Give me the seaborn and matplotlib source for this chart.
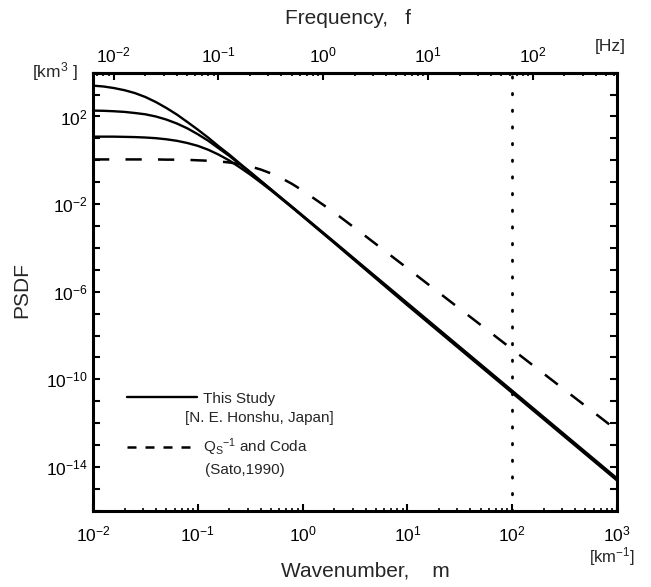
import numpy as np
import pandas as pd
import matplotlib
matplotlib.use("Agg")
import matplotlib.pyplot as plt
import seaborn as sns
from matplotlib.lines import Line2D
from matplotlib.ticker import FixedLocator, FuncFormatter, NullLocator, NullFormatter, LogLocator

# ---- data ----
wavenumber = [0.01, 0.0126, 0.0158, 0.0200, 0.0251, 0.0316, 0.0398, 0.0501, 0.0631, 0.0794,
              0.100, 0.126, 0.158, 0.200, 0.251, 0.316, 0.398, 0.501, 0.631, 0.794,
              1.0, 2.0, 3.98, 10.0, 31.6, 100.0, 316.0, 1000.0]
# log10 PSDF [km^3] of "This Study" curves (three correlation lengths)
log_psdf_study_a32 = [3.41, 3.37, 3.30, 3.20, 3.07, 2.89, 2.66, 2.39, 2.09, 1.75,
                      1.40, 1.03, 0.64, 0.26, -0.14, -0.53, -0.93, -1.33, -1.73, -2.12,
                      -2.52, -3.72, -4.92, -6.52, -8.52, -10.52, -12.52, -14.52]
log_psdf_study_a16 = [2.27, 2.26, 2.24, 2.21, 2.16, 2.10, 2.00, 1.86, 1.68, 1.46,
                      1.19, 0.89, 0.55, 0.20, -0.18, -0.56, -0.95, -1.34, -1.74, -2.14,
                      -2.54, -3.75, -4.96, -6.57, -8.57, -10.57, -12.57, -14.57]
log_psdf_study_a8 = [1.08, 1.08, 1.08, 1.07, 1.06, 1.04, 1.01, 0.96, 0.89, 0.79,
                     0.66, 0.48, 0.26, -0.01, -0.32, -0.65, -1.01, -1.38, -1.77, -2.16,
                     -2.56, -3.77, -4.99, -6.62, -8.62, -10.62, -12.62, -14.62]
# log10 PSDF of Qs^-1 and Coda (Sato, 1990)
log_psdf_sato = [0.04, 0.04, 0.04, 0.04, 0.04, 0.04, 0.04, 0.03, 0.03, 0.02,
                 0.00, -0.02, -0.05, -0.10, -0.17, -0.28, -0.42, -0.60, -0.82, -1.08,
                 -1.38, -2.38, -3.46, -4.93, -6.78, -8.63, -10.48, -12.33]
cutoff_wavenumber = 100.0       # dotted vertical line [km^-1]
s_wave_velocity = 4.0           # km/s, links wavenumber to frequency
y_labeled_exponents = [2, -2, -6, -10, -14]
top_tick_frequencies = [1e-2, 1e-1, 1e0, 1e1, 1e2]

rows = []
for name, vals in [("a32", log_psdf_study_a32), ("a16", log_psdf_study_a16),
                   ("a8", log_psdf_study_a8)]:
    for m, v in zip(wavenumber, vals):
        rows.append({"m": m, "psdf": 10.0 ** v, "curve": name})
df_study = pd.DataFrame(rows)
df_sato = pd.DataFrame({"m": wavenumber, "psdf": 10.0 ** np.array(log_psdf_sato)})

# ---- style ----
sns.set_theme(style="ticks")
plt.rcParams['font.family'] = ['Liberation Sans', 'DejaVu Sans']
plt.rcParams['mathtext.fontset'] = 'custom'
plt.rcParams['mathtext.rm'] = 'Liberation Sans'
plt.rcParams['mathtext.it'] = 'Liberation Sans:italic'
plt.rcParams['mathtext.bf'] = 'Liberation Sans:bold'
plt.rcParams['axes.edgecolor'] = 'black'
plt.rcParams['xtick.color'] = 'black'
plt.rcParams['ytick.color'] = 'black'

W, H = 651, 587
fig = plt.figure(figsize=(W / 100, H / 100), dpi=100)
fig.patch.set_facecolor('white')
L, R, T, B = 93, 617, 72.7, 510.7
ax = fig.add_axes([L / W, 1 - B / H, (R - L) / W, (B - T) / H])

sns.lineplot(data=df_study, x="m", y="psdf", units="curve", estimator=None,
             color="black", lw=1.7, ax=ax, legend=False)
sns.lineplot(data=df_sato, x="m", y="psdf", color="black", lw=1.8, ax=ax,
             legend=False, linestyle=(0, (6.5, 6.5)))
ax.axvline(cutoff_wavenumber, color="black", lw=2.0, linestyle=(0, (0.5, 5.5)),
           dash_capstyle='round')

ax.set_xscale("log")
ax.set_yscale("log")
ax.set_xlim(1e-2, 1e3)
ax.set_ylim(1e-16, 1e4)

for s in ax.spines.values():
    s.set_linewidth(2.2)
    s.set_color("black")

TICK_FS = 12.5
# y ticks: every decade, labels every 4 decades
ax.yaxis.set_major_locator(FixedLocator([10.0 ** e for e in range(-16, 5)]))
ax.yaxis.set_minor_locator(NullLocator())
ax.yaxis.set_major_formatter(FuncFormatter(
    lambda v, p: (r"$\mathregular{10^{%d}}$" % round(np.log10(v)))
    if round(np.log10(v)) in y_labeled_exponents else ""))
ax.tick_params(axis="y", which="major", direction="in", length=5, width=1.5,
               left=True, right=True, labelsize=TICK_FS, pad=4)
ax.xaxis.set_major_locator(LogLocator(base=10, numticks=10))
ax.xaxis.set_minor_locator(LogLocator(base=10, subs=np.arange(2, 10) * 0.1, numticks=20))
ax.xaxis.set_minor_formatter(NullFormatter())
ax.tick_params(axis="x", which="major", direction="in", length=5, width=1.5,
               top=False, bottom=True, labelsize=TICK_FS, pad=10)
ax.tick_params(axis="x", which="minor", direction="in", length=2.5, width=1.2,
               top=False, bottom=True)
ax.set_xlabel("")
ax.set_ylabel("")

# top frequency axis
def m2f(m):
    return np.asarray(m) * s_wave_velocity / (2 * np.pi)

def f2m(f):
    return np.asarray(f) * 2 * np.pi / s_wave_velocity

secax = ax.secondary_xaxis("top", functions=(m2f, f2m))
secax.xaxis.set_major_locator(FixedLocator(top_tick_frequencies))
fmin, fmax = m2f(1e-2), m2f(1e3)
minor_f = [k * 10.0 ** e for e in range(-3, 3) for k in range(2, 10)
           if fmin <= k * 10.0 ** e <= fmax]
secax.xaxis.set_minor_locator(FixedLocator(minor_f))
secax.xaxis.set_minor_formatter(NullFormatter())
secax.xaxis.set_major_formatter(FuncFormatter(
    lambda v, p: r"$\mathregular{10^{%d}}$" % round(np.log10(v))))
secax.tick_params(axis="x", which="major", direction="in", length=5, width=1.5,
                  labelsize=TICK_FS, pad=5)
secax.tick_params(axis="x", which="minor", direction="in", length=2.5, width=1.2)
secax.spines["top"].set_linewidth(2.2)

# legend
handles = [Line2D([], [], color="black", lw=1.7),
           Line2D([], [], color="black", lw=1.8, linestyle=(0, (3.6, 3.6)))]
labels = ["This Study", r"Q$_\mathregular{S}$$^\mathregular{-1}$ and Coda"]
ax.legend(handles, labels, loc="center left", bbox_to_anchor=(0.065, 0.196),
          frameon=False, fontsize=11, handlelength=4.6, handletextpad=0.35,
          labelspacing=2.0, borderpad=0, borderaxespad=0)
ax.text((185 - L) / (R - L), (B - 418) / (B - T), "[N. E. Honshu, Japan]",
        transform=ax.transAxes, fontsize=11, ha="left", va="center")
ax.text((205 - L) / (R - L), (B - 470) / (B - T), "(Sato,1990)",
        transform=ax.transAxes, fontsize=11, ha="left", va="center")

# labels
fig.text(348 / W, 1 - 18 / H, "Frequency,   f", ha="center", va="center", fontsize=15)
fig.text(365 / W, 1 - 571 / H, "Wavenumber,    m", ha="center", va="center", fontsize=15)
fig.text(22 / W, 1 - 290 / H, "PSDF", ha="center", va="center", rotation=90, fontsize=15)
fig.text(55 / W, 1 - 72 / H, r"[km$^\mathregular{3}$ ]", ha="center", va="center", fontsize=12.5)
fig.text(610 / W, 1 - 46 / H, "[Hz]", ha="center", va="center", fontsize=12.5)
fig.text(612 / W, 1 - 557 / H, r"[km$^\mathregular{-1}$]", ha="center", va="center", fontsize=12)

fig.savefig("out.png", dpi=100, facecolor="white")
